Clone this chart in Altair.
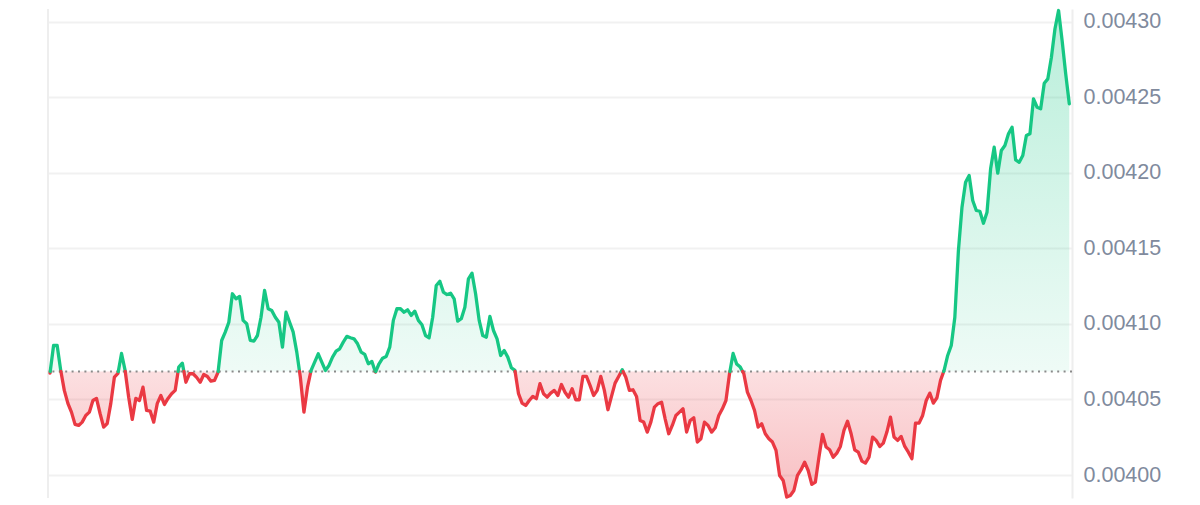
import altair as alt
import pandas as pd

# 5-minute price samples (24h)
prices = [
    0.0040674, 0.0040857, 0.0040857, 0.0040692, 0.0040560, 0.0040474, 0.0040416, 0.0040335, 0.0040328, 0.0040350,
    0.0040394, 0.0040416, 0.0040493, 0.0040507, 0.0040407, 0.0040317, 0.0040341, 0.0040474, 0.0040647, 0.0040672,
    0.0040804, 0.0040692, 0.0040515, 0.0040368, 0.0040507, 0.0040493, 0.0040581, 0.0040427, 0.0040423, 0.0040350,
    0.0040474, 0.0040526, 0.0040467, 0.0040507, 0.0040538, 0.0040560, 0.0040714, 0.0040740, 0.0040614, 0.0040670,
    0.0040670, 0.0040646, 0.0040614, 0.0040665, 0.0040652, 0.0040621, 0.0040626, 0.0040681, 0.0040890, 0.0040945,
    0.0041011, 0.0041199, 0.0041166, 0.0041181, 0.0041023, 0.0041001, 0.0040890, 0.0040886, 0.0040923, 0.0041044,
    0.0041221, 0.0041100, 0.0041089, 0.0041044, 0.0041011, 0.0040846, 0.0041077, 0.0041011, 0.0040945, 0.0040813,
    0.0040647, 0.0040416, 0.0040581, 0.0040692, 0.0040747, 0.0040802, 0.0040747, 0.0040692, 0.0040725, 0.0040780,
    0.0040819, 0.0040835, 0.0040879, 0.0040917, 0.0040908, 0.0040901, 0.0040868, 0.0040813, 0.0040798, 0.0040736,
    0.0040751, 0.0040681, 0.0040736, 0.0040773, 0.0040784, 0.0040846, 0.0041023, 0.0041100, 0.0041100, 0.0041077,
    0.0041093, 0.0041056, 0.0041084, 0.0041023, 0.0040994, 0.0040923, 0.0040908, 0.0041044, 0.0041254, 0.0041282,
    0.0041210, 0.0041194, 0.0041203, 0.0041166, 0.0041018, 0.0041034, 0.0041110, 0.0041298, 0.0041335, 0.0041199,
    0.0041023, 0.0040923, 0.0040912, 0.0041049, 0.0040956, 0.0040901, 0.0040791, 0.0040824, 0.0040780, 0.0040710,
    0.0040692, 0.0040538, 0.0040476, 0.0040460, 0.0040493, 0.0040520, 0.0040505, 0.0040604, 0.0040538, 0.0040515,
    0.0040542, 0.0040560, 0.0040526, 0.0040599, 0.0040548, 0.0040515, 0.0040571, 0.0040498, 0.0040498, 0.0040652,
    0.0040652, 0.0040593, 0.0040526, 0.0040560, 0.0040652, 0.0040560, 0.0040432, 0.0040520, 0.0040608, 0.0040652,
    0.0040696, 0.0040647, 0.0040560, 0.0040564, 0.0040520, 0.0040361, 0.0040350, 0.0040284, 0.0040350, 0.0040449,
    0.0040472, 0.0040482, 0.0040372, 0.0040273, 0.0040328, 0.0040394, 0.0040416, 0.0040438, 0.0040284, 0.0040361,
    0.0040379, 0.0040218, 0.0040240, 0.0040350, 0.0040328, 0.0040284, 0.0040313, 0.0040394, 0.0040438, 0.0040493,
    0.0040670, 0.0040804, 0.0040735, 0.0040714, 0.0040670, 0.0040548, 0.0040493, 0.0040427, 0.0040317, 0.0040339,
    0.0040273, 0.0040240, 0.0040218, 0.0040163, 0.0039997, 0.0039964, 0.0039854, 0.0039865, 0.0039898, 0.0039997,
    0.0040035, 0.0040085, 0.0040030, 0.0039938, 0.0039953, 0.0040118, 0.0040269, 0.0040185, 0.0040167, 0.0040118,
    0.0040145, 0.0040189, 0.0040295, 0.0040356, 0.0040273, 0.0040167, 0.0040151, 0.0040092, 0.0040079, 0.0040118,
    0.0040251, 0.0040229, 0.0040189, 0.0040211, 0.0040284, 0.0040383, 0.0040251, 0.0040229, 0.0040255, 0.0040189,
    0.0040151, 0.0040108, 0.0040343, 0.0040343, 0.0040394, 0.0040493, 0.0040542, 0.0040476, 0.0040511, 0.0040626,
    0.0040692, 0.0040791, 0.0040857, 0.0041044, 0.0041485, 0.0041772, 0.0041937, 0.0041982, 0.0041816, 0.0041750,
    0.0041745, 0.0041666, 0.0041739, 0.0042026, 0.0042169, 0.0041997, 0.0042147, 0.0042180, 0.0042257, 0.0042301,
    0.0042085, 0.0042069, 0.0042114, 0.0042246, 0.0042257, 0.0042489, 0.0042433, 0.0042423, 0.0042592, 0.0042621,
    0.0042764, 0.0042952, 0.0043073, 0.0042874, 0.0042654, 0.0042456,
]
baseline = 0.0040685
tick_values = [0.00400, 0.00405, 0.00410, 0.00415, 0.00420, 0.00425, 0.00430]

GREEN = "#16c784"
RED = "#ea3943"


def side(v):
    return "up" if v >= baseline else "down"


rows = []
seg = 0
for i, v in enumerate(prices):
    if i > 0:
        a = prices[i - 1]
        if (a - baseline) * (v - baseline) < 0:
            t = (i - 1) + (baseline - a) / (v - a)
            rows.append({"step": t, "price": baseline, "seg": seg, "side": side(a)})
            seg += 1
            rows.append({"step": t, "price": baseline, "seg": seg, "side": side(v)})
    rows.append({"step": float(i), "price": v, "seg": seg, "side": side(v)})

df = pd.DataFrame(rows)
df["hi"] = df["price"].clip(lower=baseline)
df["lo"] = df["price"].clip(upper=baseline)
df["base"] = baseline

n = len(prices)
xscale = alt.Scale(domain=[-0.56, (n - 1) + 0.76], nice=False, zero=False)
yscale = alt.Scale(domain=[0.0039848, 0.0043083], nice=False, zero=False)
yaxis = alt.Axis(
    orient="right",
    values=tick_values,
    format=".5f",
    grid=True,
    gridColor="#f1f1f1",
    gridWidth=2,
    domain=True,
    domainColor="#eeeeee",
    domainWidth=2,
    ticks=False,
    labelFont="Liberation Sans",
    labelFontSize=21.5,
    labelColor="#808a9d",
    labelPadding=11,
    title=None,
)

x_enc = alt.X("step:Q", scale=xscale, axis=None)

green_fill = alt.Gradient(
    gradient="linear", x1=1, x2=1, y1=0, y2=1,
    stops=[
        alt.GradientStop(color="rgba(22,199,132,0.30)", offset=0),
        alt.GradientStop(color="rgba(22,199,132,0.07)", offset=1),
    ],
)
red_fill = alt.Gradient(
    gradient="linear", x1=1, x2=1, y1=0, y2=1,
    stops=[
        alt.GradientStop(color="rgba(234,57,67,0.16)", offset=0),
        alt.GradientStop(color="rgba(234,57,67,0.32)", offset=1),
    ],
)

base = alt.Chart(df)

area_up = base.mark_area(color=green_fill, interpolate="linear").encode(
    x=x_enc,
    y=alt.Y("hi:Q", scale=yscale, axis=yaxis),
    y2="base:Q",
)
area_dn = base.mark_area(color=red_fill, interpolate="linear").encode(
    x=x_enc,
    y=alt.Y("lo:Q", scale=yscale, axis=yaxis),
    y2="base:Q",
)

left_rule = alt.Chart(pd.DataFrame({"x": [-0.56]})).mark_rule(
    color="#eeeeee", strokeWidth=2
).encode(x=alt.X("x:Q", scale=xscale, axis=None))

base_rule = alt.Chart(pd.DataFrame({"y": [baseline]})).mark_rule(
    color="#8a8a8a", strokeDash=[2, 4.4], strokeWidth=2
).encode(y=alt.Y("y:Q", scale=yscale, axis=yaxis))

line = base.mark_line(strokeWidth=3.3, strokeJoin="round", strokeCap="round").encode(
    x=x_enc,
    y=alt.Y("price:Q", scale=yscale, axis=yaxis),
    color=alt.Color("side:N", scale=alt.Scale(domain=["up", "down"], range=[GREEN, RED]), legend=None),
    detail="seg:N",
    order="step:Q",
)

chart = (
    alt.layer(area_up, area_dn, left_rule, base_rule, line)
    .properties(
        width=1024,
        height=489,
        background="white",
        padding={"left": 39, "top": 0, "right": 0, "bottom": 0},
    )
    .configure_view(stroke=None)
)

chart.save("out.html", embed_options={"renderer": "svg", "actions": False})
